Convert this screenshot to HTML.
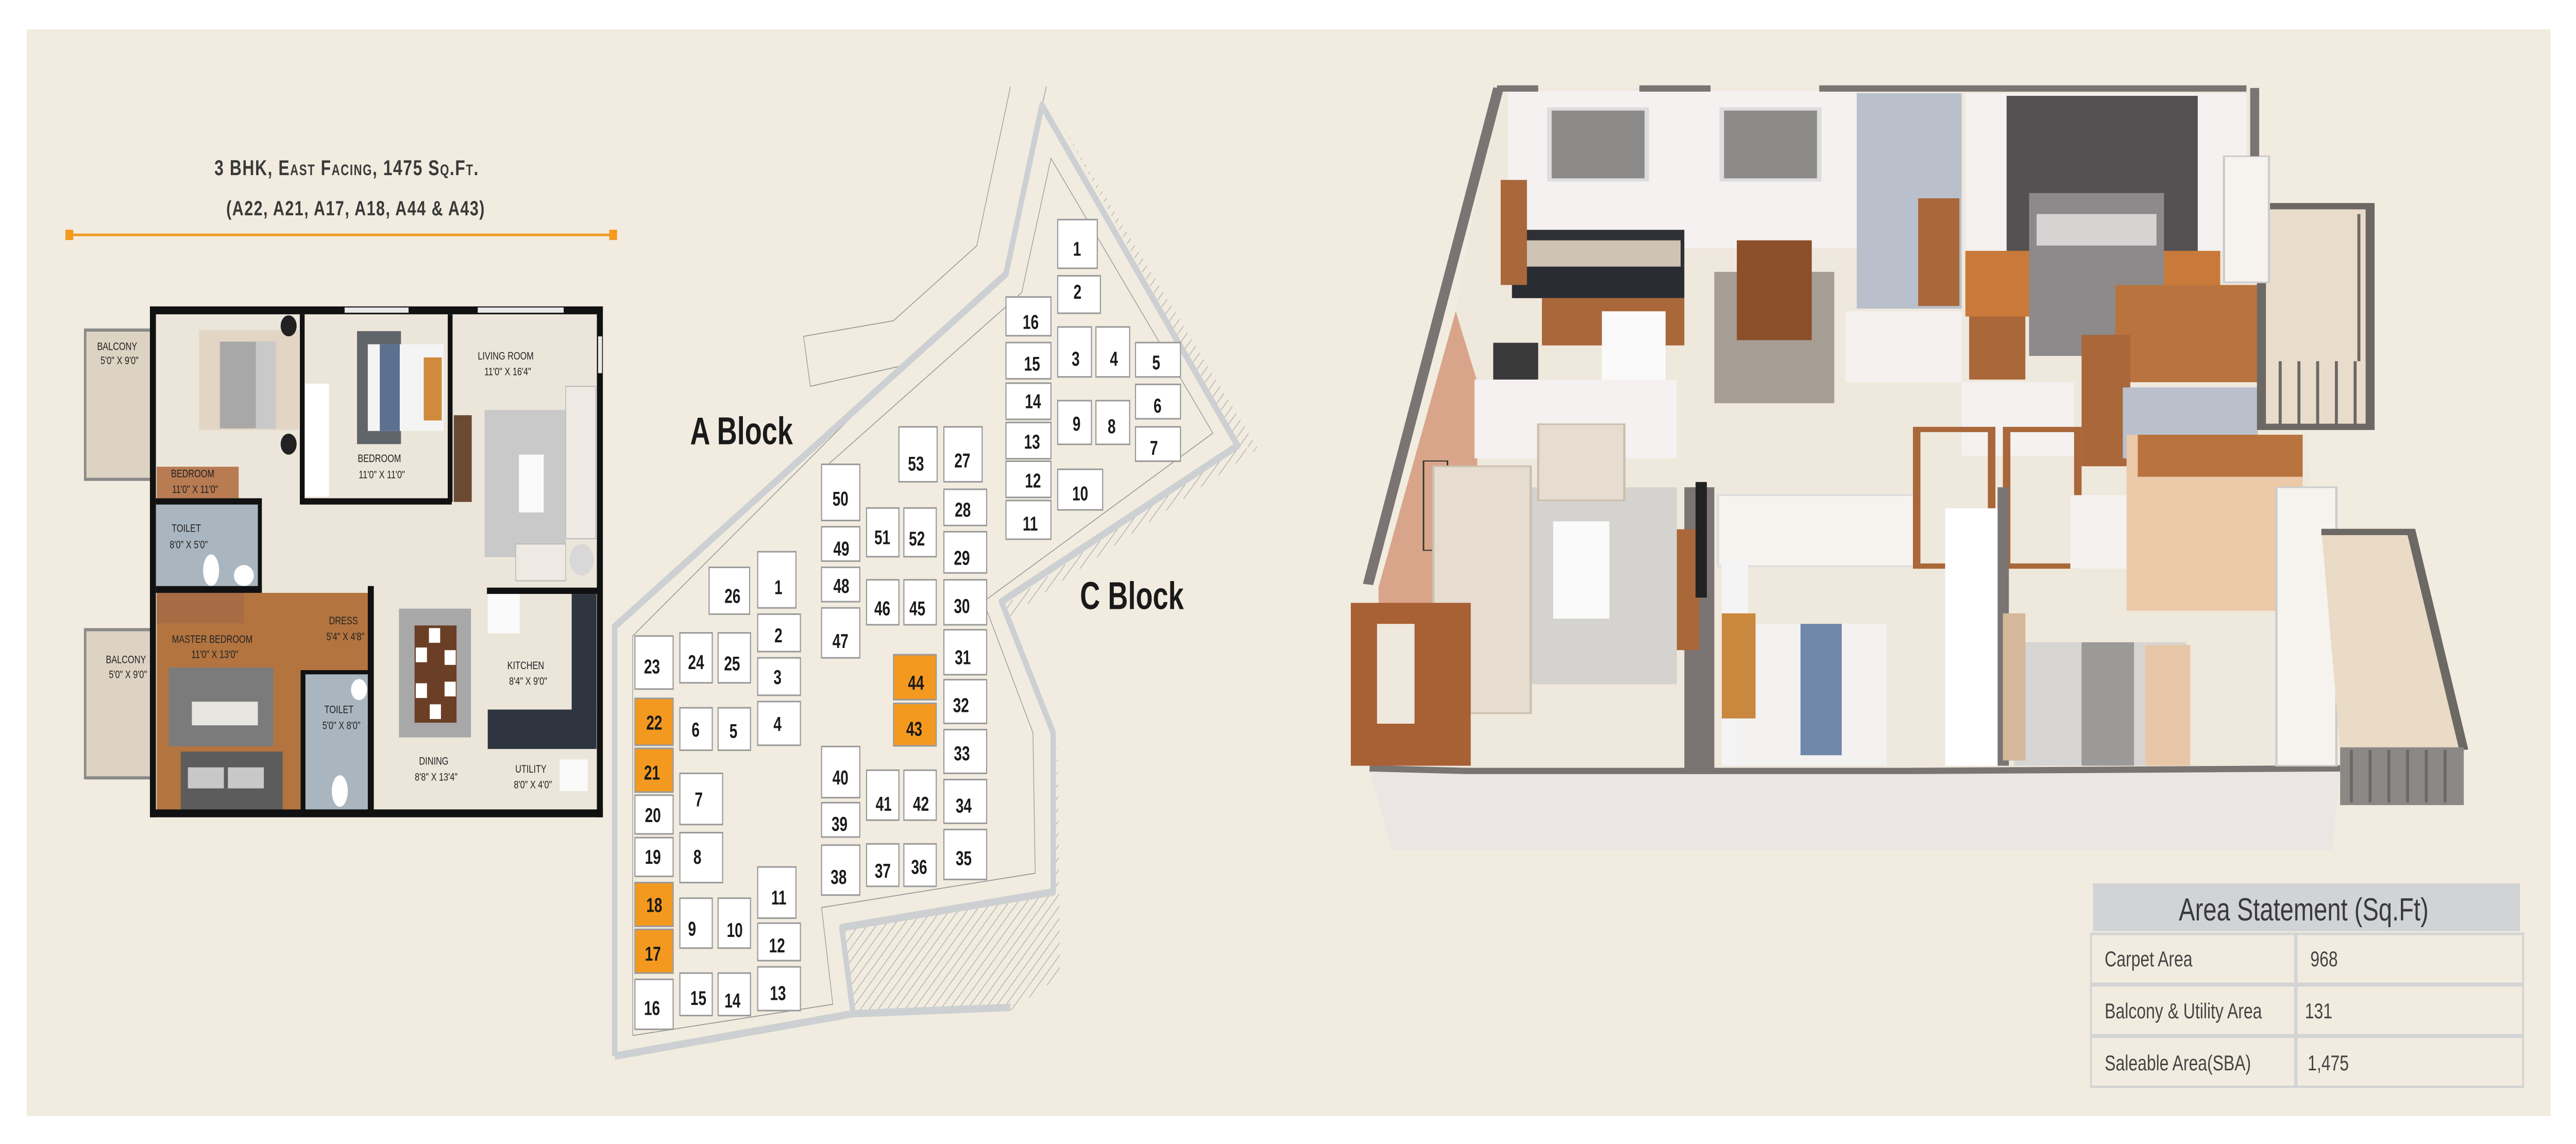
<!DOCTYPE html>
<html><head><meta charset="utf-8"><style>
html,body{margin:0;padding:0;background:#fff;overflow:hidden;width:100%;height:100%;}
svg{display:block;width:100vw;height:100vh;}
</style></head><body>
<svg viewBox="0 0 6575 2221" preserveAspectRatio="none" xmlns="http://www.w3.org/2000/svg">
<defs>
<pattern id="hatch" width="14" height="14" patternUnits="userSpaceOnUse" patternTransform="rotate(45)">
<rect width="14" height="14" fill="#f2ece0"/><line x1="0" y1="0" x2="0" y2="14" stroke="#9a9a9a" stroke-width="2"/>
</pattern>
</defs>
<rect x="0" y="0" width="6575" height="2221" fill="#ffffff"/>
<rect x="68" y="57" width="6442" height="2110" fill="#f2ece0"/>

<!-- Title -->
<g font-family="Liberation Sans, sans-serif" font-weight="bold" fill="#3a3a3a" text-anchor="middle">
<text x="885" y="340" font-size="42" style="font-variant:small-caps" letter-spacing="2">3 BHK, East Facing, 1475 Sq.Ft.</text>
<text x="908" y="418" font-size="40" letter-spacing="2">(A22, A21, A17, A18, A44 &amp; A43)</text>
</g>
<line x1="175" y1="456" x2="1563" y2="456" stroke="#f39a1f" stroke-width="5"/>
<rect x="167" y="446" width="20" height="20" fill="#f39a1f"/>
<rect x="1555" y="446" width="20" height="20" fill="#f39a1f"/>

<!-- Floor plan 2D -->
<g transform="scale(1.0204)">
<rect x="213" y="628" width="172" height="284" fill="#ddd3c3" stroke="#8a8a8a" stroke-width="6"/>
<rect x="213" y="1198" width="172" height="282" fill="#ddd3c3" stroke="#8a8a8a" stroke-width="6"/>
<rect x="380" y="590" width="1122" height="958" fill="#ece6da"/>
<rect x="498" y="628" width="250" height="190" fill="#e2d5c4"/>
<rect x="550" y="650" width="140" height="165" fill="#a8a8a8"/>
<rect x="640" y="650" width="50" height="165" fill="#c9c9c9"/>
<circle cx="722" cy="620" r="20" fill="#222"/><circle cx="722" cy="845" r="20" fill="#222"/>
<rect x="392" y="888" width="205" height="60" fill="#b87b52"/>
<rect x="763" y="730" width="60" height="215" fill="#ffffff"/>
<rect x="893" y="630" width="110" height="215" fill="#60656b"/>
<rect x="920" y="655" width="190" height="165" fill="#f4f4f4"/>
<rect x="950" y="655" width="50" height="165" fill="#5c7090"/>
<rect x="1060" y="680" width="45" height="120" fill="#d08a3e"/>
<rect x="1212" y="780" width="203" height="280" fill="#c9c9c9"/>
<rect x="1415" y="735" width="75" height="290" fill="#eeeae3" stroke="#bbb" stroke-width="2"/>
<rect x="1290" y="1035" width="125" height="70" fill="#eeeae3" stroke="#bbb" stroke-width="2"/>
<circle cx="1455" cy="1065" r="30" fill="#d8d8d8"/>
<rect x="1298" y="865" width="62" height="110" fill="#fafafa"/>
<rect x="1135" y="790" width="45" height="165" fill="#6a4a32"/>
<rect x="390" y="960" width="262" height="155" fill="#aab6bf"/>
<ellipse cx="528" cy="1085" rx="20" ry="30" fill="#fff"/><ellipse cx="610" cy="1095" rx="25" ry="20" fill="#fff"/>
<rect x="392" y="1128" width="533" height="412" fill="#b3743f"/>
<rect x="392" y="1128" width="218" height="58" fill="#a86c45"/>
<rect x="422" y="1270" width="262" height="150" fill="#7b7b7b"/>
<rect x="480" y="1335" width="165" height="45" fill="#e8e6e0"/>
<rect x="452" y="1430" width="255" height="110" fill="#5c5c5c"/>
<rect x="470" y="1460" width="90" height="40" fill="#c8c8c8"/><rect x="570" y="1460" width="90" height="40" fill="#c8c8c8"/>
<rect x="762" y="1282" width="162" height="258" fill="#aab6bf"/>
<ellipse cx="850" cy="1505" rx="20" ry="30" fill="#fff"/><circle cx="898" cy="1312" r="20" fill="#fff"/>
<rect x="998" y="1158" width="180" height="245" fill="#a8a8a8"/>
<rect x="1037" y="1190" width="105" height="185" fill="#6b3f26"/>
<rect x="1073" y="1195" width="28" height="28" fill="#fff"/><rect x="1040" y="1232" width="28" height="28" fill="#fff"/><rect x="1112" y="1237" width="28" height="28" fill="#fff"/><rect x="1040" y="1300" width="28" height="28" fill="#fff"/><rect x="1112" y="1297" width="28" height="28" fill="#fff"/><rect x="1075" y="1340" width="28" height="28" fill="#fff"/>
<rect x="1220" y="1350" width="272" height="75" fill="#2f3540"/>
<rect x="1430" y="1130" width="62" height="225" fill="#2f3540"/>
<rect x="1220" y="1130" width="80" height="75" fill="#fafafa"/>
<rect x="1400" y="1445" width="70" height="60" fill="#fafafa"/>
<g fill="#111">
<rect x="375" y="583" width="1133" height="15"/>
<rect x="375" y="583" width="15" height="972"/>
<rect x="1493" y="583" width="15" height="972"/>
<rect x="375" y="1540" width="1133" height="15"/>
<rect x="750" y="598" width="12" height="357"/>
<rect x="1120" y="598" width="12" height="357"/>
<rect x="390" y="948" width="265" height="12"/>
<rect x="750" y="948" width="380" height="12"/>
<rect x="645" y="960" width="10" height="165"/>
<rect x="390" y="1115" width="265" height="13"/>
<rect x="920" y="1115" width="15" height="430"/>
<rect x="752" y="1275" width="12" height="270"/>
<rect x="764" y="1275" width="160" height="8"/>
<rect x="1218" y="1118" width="280" height="12"/>
</g>
<g fill="#e8e8e8"><rect x="862" y="585" width="160" height="10"/><rect x="1195" y="585" width="215" height="10"/><rect x="1496" y="640" width="10" height="70"/></g>
<g font-family="Liberation Sans, sans-serif" font-size="21" fill="#222" text-anchor="middle">
<text x="293" y="666">BALCONY</text><text x="299" y="693">5'0" X 9'0"</text>
<text x="482" y="908">BEDROOM</text><text x="488" y="938">11'0" X 11'0"</text>
<text x="949" y="879">BEDROOM</text><text x="955" y="910">11'0" X 11'0"</text>
<text x="1265" y="684">LIVING ROOM</text><text x="1270" y="714">11'0" X 16'4"</text>
<text x="466" y="1012">TOILET</text><text x="472" y="1043">8'0" X 5'0"</text>
<text x="859" y="1188">DRESS</text><text x="864" y="1218">5'4" X 4'8"</text>
<text x="531" y="1223">MASTER BEDROOM</text><text x="537" y="1252">11'0" X 13'0"</text>
<text x="315" y="1262">BALCONY</text><text x="320" y="1290">5'0" X 9'0"</text>
<text x="848" y="1357">TOILET</text><text x="854" y="1387">5'0" X 8'0"</text>
<text x="1315" y="1273">KITCHEN</text><text x="1321" y="1303">8'4" X 9'0"</text>
<text x="1085" y="1455">DINING</text><text x="1091" y="1485">8'8" X 13'4"</text>
<text x="1328" y="1470">UTILITY</text><text x="1333" y="1500">8'0" X 4'0"</text>
</g>
</g>

<!-- Site plan -->
<g transform="translate(1500 150) scale(1.148 1.212)">
<polygon points="565,1362 1035,1305 1045,1055 1050,1440 940,1495 595,1500" fill="url(#hatch)"/>
<polygon points="1045,65 1490,595 1445,590" fill="url(#hatch)"/>
<polygon points="930,845 1440,595 1490,595 935,865" fill="url(#hatch)"/>
<g fill="none" stroke="#9a9a9a" stroke-width="1.5">
<polyline points="940,15 865,270 680,390 480,415 495,495 700,462"/>
<polyline points="1020,15 1010,45"/>
<polyline points="100,1535 100,895 700,462"/>
<polyline points="100,1535 545,1485 520,1330 995,1275 990,1050 880,840 1390,570 1030,130 965,345"/>
<polyline points="965,345 535,620"/>
</g>
<polyline points="60,1568 60,880 930,315 1010,45 1445,590 920,840 1035,1050 1035,1305 565,1362 590,1500 940,1490" fill="none" stroke="#cdd0d2" stroke-width="12" stroke-linejoin="round"/>
<line x1="60" y1="1568" x2="590" y2="1500" stroke="#cdd0d2" stroke-width="12"/>
<g stroke="#9a9a9a" stroke-width="2.5" fill="#ffffff">
<rect x="105" y="895" width="85" height="85"/>
<rect x="105" y="995" width="85" height="75" fill="#f4991f"/>
<rect x="105" y="1075" width="85" height="70" fill="#f4991f"/>
<rect x="105" y="1150" width="85" height="62"/>
<rect x="105" y="1218" width="85" height="62"/>
<rect x="105" y="1290" width="85" height="70" fill="#f4991f"/>
<rect x="105" y="1365" width="85" height="70" fill="#f4991f"/>
<rect x="105" y="1445" width="85" height="80"/>
<rect x="205" y="890" width="72" height="80"/><rect x="290" y="890" width="72" height="80"/>
<rect x="270" y="785" width="90" height="75"/>
<rect x="378" y="760" width="85" height="90"/><rect x="378" y="860" width="95" height="60"/><rect x="378" y="930" width="95" height="60"/><rect x="378" y="1000" width="95" height="70"/>
<rect x="205" y="1010" width="72" height="68"/><rect x="290" y="1010" width="72" height="68"/>
<rect x="205" y="1115" width="95" height="82"/><rect x="205" y="1210" width="95" height="80"/>
<rect x="205" y="1315" width="72" height="80"/><rect x="290" y="1315" width="72" height="80"/>
<rect x="378" y="1265" width="85" height="82"/><rect x="378" y="1355" width="95" height="60"/><rect x="378" y="1425" width="95" height="70"/>
<rect x="205" y="1435" width="72" height="68"/><rect x="290" y="1435" width="72" height="68"/>
<rect x="520" y="620" width="85" height="90"/><rect x="520" y="720" width="85" height="55"/><rect x="520" y="785" width="85" height="55"/><rect x="520" y="850" width="85" height="80"/>
<rect x="620" y="690" width="72" height="78"/><rect x="703" y="690" width="72" height="78"/>
<rect x="620" y="805" width="72" height="72"/><rect x="703" y="805" width="72" height="72"/>
<rect x="692" y="560" width="85" height="88"/><rect x="792" y="560" width="85" height="88"/>
<rect x="792" y="660" width="95" height="58"/><rect x="792" y="728" width="95" height="66"/><rect x="792" y="805" width="95" height="72"/><rect x="792" y="885" width="95" height="72"/><rect x="792" y="965" width="95" height="70"/><rect x="792" y="1045" width="95" height="70"/><rect x="792" y="1125" width="95" height="70"/><rect x="792" y="1205" width="95" height="80"/>
<rect x="680" y="925" width="95" height="72" fill="#f4991f"/><rect x="680" y="1003" width="95" height="68" fill="#f4991f"/>
<rect x="520" y="1072" width="85" height="82"/><rect x="520" y="1162" width="85" height="55"/><rect x="520" y="1230" width="85" height="80"/>
<rect x="620" y="1110" width="72" height="80"/><rect x="703" y="1110" width="72" height="80"/>
<rect x="620" y="1228" width="72" height="68"/><rect x="703" y="1228" width="72" height="68"/>
<rect x="1045" y="228" width="88" height="78"/><rect x="1045" y="318" width="95" height="60"/>
<rect x="930" y="352" width="100" height="62"/><rect x="930" y="425" width="100" height="58"/><rect x="930" y="490" width="100" height="58"/><rect x="930" y="553" width="100" height="58"/><rect x="930" y="615" width="100" height="58"/><rect x="930" y="678" width="100" height="62"/>
<rect x="1045" y="400" width="75" height="80"/><rect x="1130" y="400" width="75" height="80"/>
<rect x="1218" y="425" width="100" height="55"/><rect x="1218" y="492" width="100" height="55"/><rect x="1218" y="560" width="100" height="55"/>
<rect x="1045" y="518" width="75" height="70"/><rect x="1130" y="518" width="75" height="70"/>
<rect x="1045" y="628" width="100" height="65"/>
</g>
<g font-family="Liberation Sans, sans-serif" font-weight="bold" font-size="32" fill="#1a1a1a" text-anchor="middle">
<text x="143" y="955">23</text><text x="148" y="1045">22</text><text x="143" y="1125">21</text><text x="145" y="1193">20</text><text x="145" y="1260">19</text><text x="148" y="1337">18</text><text x="145" y="1415">17</text><text x="143" y="1502">16</text>
<text x="241" y="948">24</text><text x="321" y="950">25</text><text x="322" y="842">26</text>
<text x="424" y="828">1</text><text x="424" y="905">2</text><text x="422" y="972">3</text><text x="422" y="1047">4</text>
<text x="240" y="1056">6</text><text x="324" y="1058">5</text><text x="247" y="1168">7</text><text x="244" y="1260">8</text>
<text x="232" y="1375">9</text><text x="327" y="1377">10</text><text x="425" y="1325">11</text><text x="421" y="1402">12</text><text x="423" y="1478">13</text>
<text x="246" y="1486">15</text><text x="322" y="1490">14</text>
<text x="562" y="686">50</text><text x="564" y="766">49</text><text x="564" y="826">48</text><text x="562" y="914">47</text>
<text x="655" y="748">51</text><text x="732" y="750">52</text><text x="655" y="862">46</text><text x="733" y="862">45</text>
<text x="730" y="630">53</text><text x="833" y="625">27</text><text x="834" y="704">28</text><text x="832" y="781">29</text><text x="832" y="858">30</text><text x="834" y="940">31</text><text x="830" y="1017">32</text><text x="832" y="1094">33</text><text x="836" y="1178">34</text><text x="836" y="1262">35</text>
<text x="730" y="981">44</text><text x="726" y="1055">43</text>
<text x="562" y="1133">40</text><text x="560" y="1207">39</text><text x="558" y="1292">38</text>
<text x="658" y="1175">41</text><text x="741" y="1175">42</text><text x="656" y="1282">37</text><text x="737" y="1276">36</text>
<text x="1088" y="286">1</text><text x="1089" y="355">2</text><text x="985" y="403">16</text><text x="988" y="470">15</text><text x="990" y="530">14</text><text x="988" y="595">13</text><text x="990" y="657">12</text><text x="984" y="726">11</text>
<text x="1085" y="462">3</text><text x="1170" y="462">4</text><text x="1264" y="468">5</text><text x="1267" y="537">6</text><text x="1259" y="605">7</text>
<text x="1087" y="566">9</text><text x="1165" y="570">8</text><text x="1095" y="678">10</text>
<text x="342" y="588" font-size="62">A Block</text>
<text x="1210" y="852" font-size="62">C Block</text>
</g>
</g>

<!-- 3D render -->
<g transform="translate(3400 130) scale(1.913 1.02)">
<polygon points="50,1340 220,40 1225,40 1250,690 1300,700 1340,1335" fill="#efe8dc"/>
<polygon points="50,1340 1345,1335 1335,1490 80,1490" fill="#ebe5e3"/>
<polyline points="50,1335 180,1340 350,1340 595,1340 770,1340 1345,1335" fill="none" stroke="#7a7572" stroke-width="12"/>
<line x1="48" y1="985" x2="222" y2="40" stroke="#7a7572" stroke-width="14"/>
<polygon points="62,990 165,465 195,605 190,1190 62,1325" fill="#d9a58a"/>
<rect x="122" y="750" width="32" height="170" fill="none" stroke="#333" stroke-width="2"/>
<rect x="235" y="45" width="465" height="300" fill="#f4f1f0"/>
<rect x="220" y="35" width="55" height="12" fill="#7a7572"/><rect x="410" y="35" width="95" height="12" fill="#7a7572"/><rect x="650" y="35" width="570" height="12" fill="#7a7572"/>
<rect x="290" y="80" width="130" height="135" fill="#8d8a8a" stroke="#ddd" stroke-width="6"/>
<rect x="520" y="80" width="130" height="135" fill="#8d8a8a" stroke="#ddd" stroke-width="6"/>
<rect x="240" y="310" width="230" height="70" fill="#2f3035"/>
<rect x="245" y="330" width="220" height="50" fill="#cfc4b4"/>
<rect x="240" y="380" width="230" height="60" fill="#2a2c33"/>
<rect x="280" y="440" width="190" height="90" fill="#a9673a"/>
<rect x="225" y="215" width="35" height="200" fill="#a9673a"/>
<rect x="190" y="595" width="270" height="150" fill="#f4f1f0"/>
<rect x="360" y="465" width="85" height="130" fill="#fafafa"/>
<rect x="215" y="525" width="60" height="70" fill="#3a3a3a"/>
<rect x="510" y="390" width="160" height="250" fill="#a79e93"/>
<rect x="540" y="330" width="100" height="190" fill="#8b4f2a"/>
<rect x="700" y="50" width="140" height="410" fill="#b9c0cc"/>
<rect x="685" y="465" width="155" height="135" fill="#f4f1f0"/>
<rect x="782" y="250" width="55" height="205" fill="#a9673a"/>
<rect x="845" y="50" width="375" height="300" fill="#f4f1f0"/>
<rect x="900" y="55" width="255" height="300" fill="#555152"/>
<rect x="845" y="350" width="340" height="125" fill="#c97a3a"/>
<rect x="930" y="240" width="180" height="310" fill="#8c8a8a"/>
<rect x="940" y="280" width="160" height="60" fill="#d6d4d2"/>
<rect x="1045" y="415" width="205" height="185" fill="#b8733e"/>
<rect x="850" y="475" width="75" height="120" fill="#a9673a"/>
<rect x="1000" y="510" width="65" height="250" fill="#a9673a"/>
<rect x="1055" y="610" width="180" height="135" fill="#b9c0cc"/>
<rect x="840" y="600" width="150" height="140" fill="#f4f1f0"/>
<rect x="1240" y="265" width="145" height="420" fill="#e9dccb"/>
<rect x="1240" y="265" width="145" height="420" fill="none" stroke="#6c6864" stroke-width="12"/>
<g stroke="#6c6864" stroke-width="4"><line x1="1265" y1="560" x2="1265" y2="680"/><line x1="1290" y1="560" x2="1290" y2="680"/><line x1="1315" y1="560" x2="1315" y2="680"/><line x1="1340" y1="560" x2="1340" y2="680"/><line x1="1365" y1="560" x2="1365" y2="680"/><line x1="1370" y1="280" x2="1370" y2="560"/></g>
<rect x="1190" y="170" width="60" height="240" fill="#f6f3ef" stroke="#ccc" stroke-width="3"/>
<rect x="230" y="800" width="230" height="375" fill="#d5d3d0"/>
<rect x="135" y="760" width="130" height="470" fill="#e6ddd0" stroke="#cbbfae" stroke-width="3"/>
<rect x="275" y="680" width="115" height="145" fill="#e6ddd0" stroke="#cbbfae" stroke-width="3"/>
<rect x="295" y="865" width="75" height="185" fill="#fafafa"/>
<rect x="25" y="1020" width="160" height="310" fill="#a86035"/>
<rect x="60" y="1060" width="50" height="190" fill="#efe8dc"/>
<rect x="470" y="800" width="40" height="540" fill="#7a7572"/>
<rect x="515" y="815" width="265" height="135" fill="#f6f2ee" stroke="#ddd" stroke-width="3"/>
<rect x="460" y="880" width="30" height="230" fill="#a9673a"/>
<rect x="485" y="790" width="15" height="220" fill="#222"/>
<rect x="520" y="940" width="35" height="390" fill="#f4f4f4"/>
<rect x="540" y="1060" width="200" height="270" fill="#f4f2f0"/>
<rect x="625" y="1060" width="55" height="250" fill="#6f87a8"/>
<rect x="520" y="1040" width="45" height="200" fill="#c9883e"/>
<rect x="780" y="690" width="100" height="260" fill="none" stroke="#a9673a" stroke-width="10"/>
<rect x="900" y="690" width="95" height="260" fill="none" stroke="#a9673a" stroke-width="10"/>
<rect x="818" y="840" width="72" height="490" fill="#ffffff"/>
<rect x="888" y="800" width="15" height="530" fill="#7a7572"/>
<rect x="1060" y="700" width="235" height="335" fill="#ecc9a8"/>
<rect x="1075" y="700" width="220" height="80" fill="#b8733e"/>
<rect x="985" y="815" width="75" height="140" fill="#f4f1f0"/>
<rect x="910" y="1095" width="230" height="235" fill="#d7d5d3"/>
<rect x="1000" y="1095" width="70" height="235" fill="#9c9a98"/>
<rect x="1085" y="1100" width="60" height="230" fill="#e8c7a8"/>
<rect x="895" y="1040" width="30" height="280" fill="#d5b79a"/>
<rect x="1260" y="800" width="80" height="530" fill="#f6f3ef" stroke="#ccc" stroke-width="3"/>
<polygon points="1320,880 1440,880 1510,1300 1345,1300" fill="#eadbc6"/>
<polyline points="1320,885 1440,885 1510,1300" fill="none" stroke="#6c6864" stroke-width="12"/>
<rect x="1345" y="1295" width="165" height="110" fill="#8c8885"/>
<g stroke="#6c6864" stroke-width="4"><line x1="1360" y1="1300" x2="1360" y2="1400"/><line x1="1385" y1="1300" x2="1385" y2="1400"/><line x1="1410" y1="1300" x2="1410" y2="1400"/><line x1="1435" y1="1300" x2="1435" y2="1400"/><line x1="1460" y1="1300" x2="1460" y2="1400"/><line x1="1485" y1="1300" x2="1485" y2="1400"/></g>
<rect x="1225" y="40" width="12" height="130" fill="#7a7572"/>
</g>

<!-- Area statement -->
<rect x="5342" y="1715" width="1090" height="93" fill="#d1d3d6"/>
<text x="5880" y="1787" text-anchor="middle" font-family="Liberation Sans Narrow, Liberation Sans, sans-serif" font-size="62" fill="#3a3a3a">Area Statement (Sq.Ft)</text>
<g fill="#f2ece0" stroke="#d4d4d4" stroke-width="5">
<rect x="5337" y="1813" width="521" height="97"/><rect x="5862" y="1813" width="578" height="97"/>
<rect x="5337" y="1913" width="521" height="97"/><rect x="5862" y="1913" width="578" height="97"/>
<rect x="5337" y="2013" width="521" height="97"/><rect x="5862" y="2013" width="578" height="97"/>
</g>
<g font-family="Liberation Sans Narrow, Liberation Sans, sans-serif" font-size="42" fill="#444">
<text x="5372" y="1876">Carpet Area</text><text x="5897" y="1876">968</text>
<text x="5372" y="1977">Balcony &amp; Utility Area</text><text x="5883" y="1977">131</text>
<text x="5372" y="2078">Saleable Area(SBA)</text><text x="5890" y="2078">1,475</text>
</g>
</svg>
</body></html>
